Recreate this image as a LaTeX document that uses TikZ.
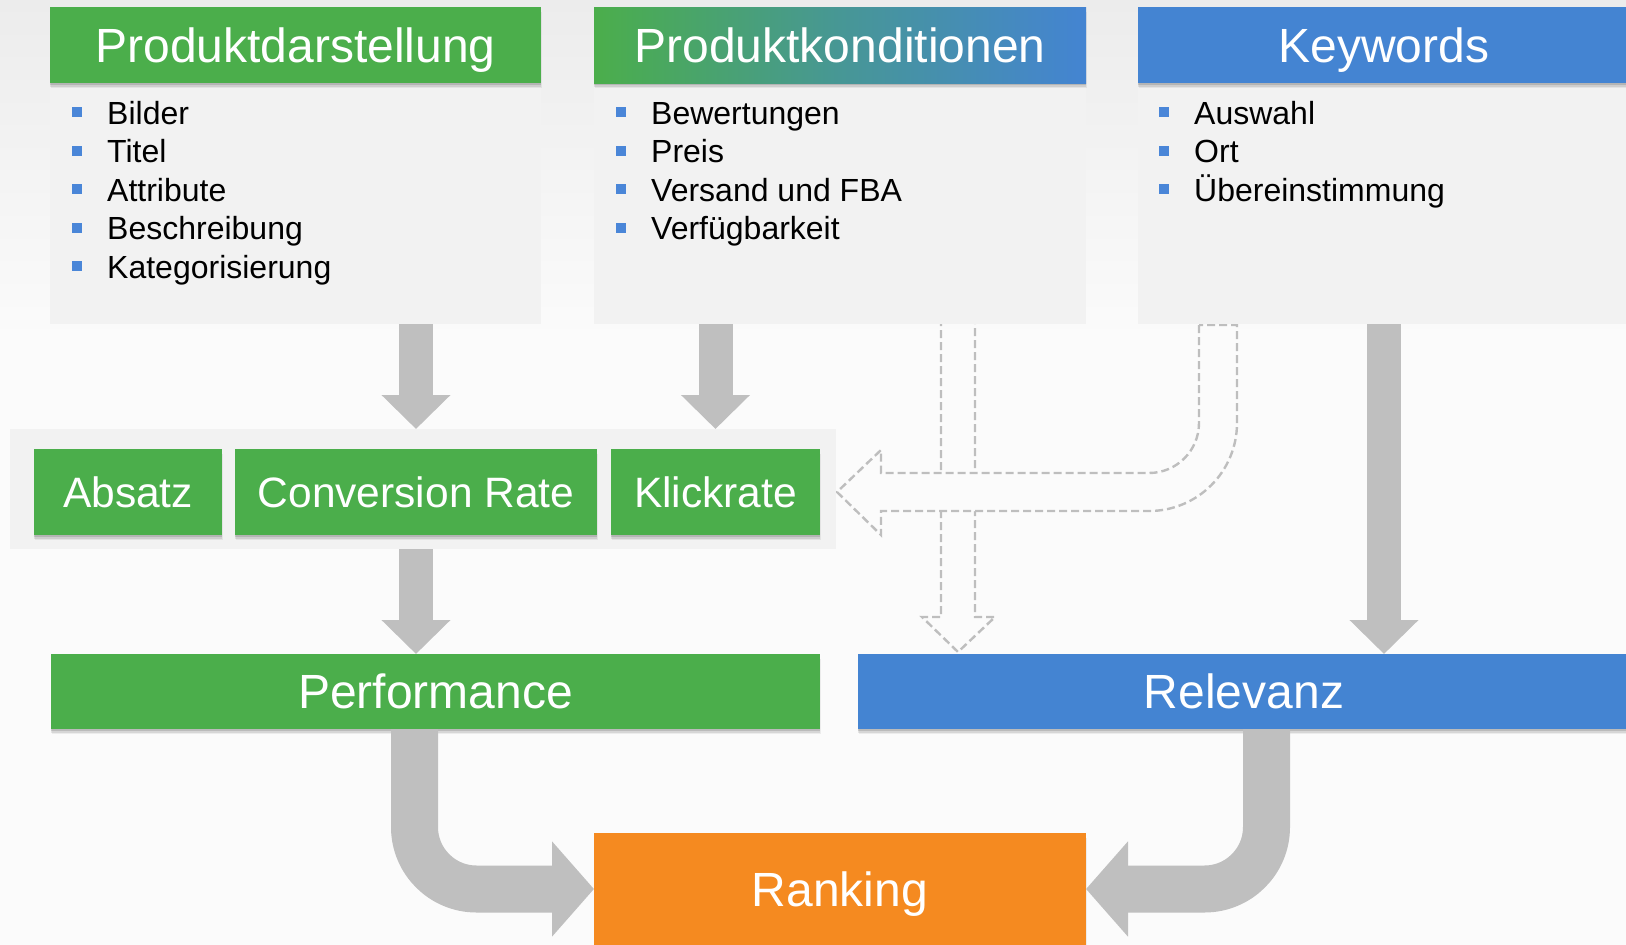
\documentclass[tikz,border=0pt]{standalone}
\usepackage{fontspec}
\setmainfont{Liberation Sans}
\usetikzlibrary{arrows.meta,shadows,calc}
\definecolor{hgreen}{RGB}{75,174,75}
\definecolor{hblue}{RGB}{68,132,210}
\definecolor{horange}{RGB}{245,138,32}
\definecolor{arrowgray}{RGB}{191,191,191}
\definecolor{dashgray}{RGB}{190,190,190}
\definecolor{panelgray}{RGB}{242,242,242}
\definecolor{bgtop}{RGB}{236,236,236}
\definecolor{bgwhite}{RGB}{251,251,251}
\definecolor{bulletblue}{RGB}{74,134,216}
\begin{document}
\begin{tikzpicture}[x=1pt,y=-1pt,
  shadowed/.style={
    general shadow={fill=black, opacity=0.06, shadow yshift=-5pt, shadow xshift=0.5pt},
    general shadow={fill=black, opacity=0.09, shadow yshift=-3.5pt},
    general shadow={fill=black, opacity=0.12, shadow yshift=-2pt}},
  box/.style={rectangle, inner sep=0pt, outer sep=0pt, anchor=north west, text=white, shadowed},
  big/.style={font=\fontsize{48}{57}\selectfont, text height=34.4pt, text depth=0pt},
  mid/.style={font=\fontsize{42.5}{50}\selectfont, text height=30.4pt, text depth=0pt},
  panel/.style={rectangle, fill=panelgray, inner sep=0pt, outer sep=0pt, anchor=north west},
  item/.style={anchor=base west, inner sep=0pt, font=\fontsize{32}{38}\selectfont, text=black},
  fat/.style={draw=arrowgray, line width=34pt, -{Triangle[length=34pt,width=67pt]}},
  bent/.style={draw=arrowgray, line width=47pt, rounded corners=62pt, -{Triangle[length=42pt,width=93pt]}},
  hollow/.style={draw=dashgray, line width=2.4pt, dash pattern=on 8pt off 4pt},
]
\useasboundingbox (0,0) rectangle (1626,945);
\fill[bgwhite] (0,0) rectangle (1626,945);
\shade[top color=bgtop, bottom color=bgwhite] (0,0) rectangle (1626,340);

% dashed hollow arrows (behind panels)
\draw[hollow] (941,318) -- (941,617) -- (922,617) -- (958,652) -- (995,617) -- (975,617) -- (975,318);
\draw[hollow, fill=bgwhite] (1199,325) -- (1199,423) .. controls (1199,450.6) and (1176.6,473) .. (1149,473)
  -- (881,473) -- (881,450) -- (837,492) -- (881,535) -- (881,511) -- (1149,511)
  .. controls (1197.6,511) and (1237,471.6) .. (1237,423) -- (1237,325) -- cycle;

% top panels
\node[panel, minimum width=491pt, minimum height=241pt] (b1) at (50,83) {};
\node[panel, minimum width=492pt, minimum height=241pt] (b2) at (594,83) {};
\node[panel, minimum width=492pt, minimum height=241pt] (b3) at (1138,83) {};
\node[box, big, fill=hgreen, minimum width=491pt, minimum height=76pt] (h1) at (50,7) {Produktdarstellung};
\node[box, big, left color=hgreen, right color=hblue, middle color=hgreen!45!hblue, minimum width=492pt, minimum height=76pt] (h2) at (594,7) {Produktkonditionen};
\node[box, big, fill=hblue, minimum width=492pt, minimum height=76pt] (h3) at (1138,7) {Keywords};

% list items
\foreach \t [count=\i from 0] in {Bilder,Titel,Attribute,Beschreibung,Kategorisierung}{
  \fill[bulletblue] (72,124+38.5*\i-17) rectangle (82,124+38.5*\i-7);
  \node[item] (pa\i) at (107,124+38.5*\i) {\t};
}
\foreach \t [count=\i from 0] in {Bewertungen,Preis,Versand und FBA,Verfügbarkeit}{
  \fill[bulletblue] (616,124+38.5*\i-17) rectangle (626,124+38.5*\i-7);
  \node[item] (pb\i) at (651,124+38.5*\i) {\t};
}
\foreach \t [count=\i from 0] in {Auswahl,Ort,Übereinstimmung}{
  \fill[bulletblue] (1159,124+38.5*\i-17) rectangle (1169,124+38.5*\i-7);
  \node[item] (pc\i) at (1194,124+38.5*\i) {\t};
}

% middle row
\node[panel, minimum width=826pt, minimum height=120pt] (mp) at (10,429) {};
\node[box, mid, fill=hgreen, minimum width=188pt, minimum height=86pt] (ab) at (34,449) {Absatz};
\node[box, mid, fill=hgreen, minimum width=362pt, minimum height=86pt] (cr) at (235,449) {Conversion Rate};
\node[box, mid, fill=hgreen, minimum width=209pt, minimum height=86pt] (kr) at (611,449) {Klickrate};

% bottom boxes
\node[box, big, fill=hgreen, minimum width=769pt, minimum height=75pt] (perf) at (51,654) {Performance};
\node[box, big, fill=hblue, minimum width=772pt, minimum height=75pt] (rel) at (858,654) {Relevanz};
\node[box, big, fill=horange, minimum width=492pt, minimum height=112pt] (rank) at (594,833) {Ranking};

\coordinate (lx) at (414.5,0);
\coordinate (rx) at (1266.5,0);

% solid arrows
\draw[fat] (cr.north |- b1.south) -- (cr.north |- mp.north);
\draw[fat] (kr.north |- b2.south) -- (kr.north |- mp.north);
\draw[fat] (cr.south |- mp.south) -- (cr.south |- perf.north);
\draw[fat] (b3.south) -- (b3.south |- rel.north);
\draw[bent] (lx |- perf.south) -- (lx |- rank.west) -- (rank.west);
\draw[bent] (rx |- rel.south) -- (rx |- rank.east) -- (rank.east);
\end{tikzpicture}
\end{document}
